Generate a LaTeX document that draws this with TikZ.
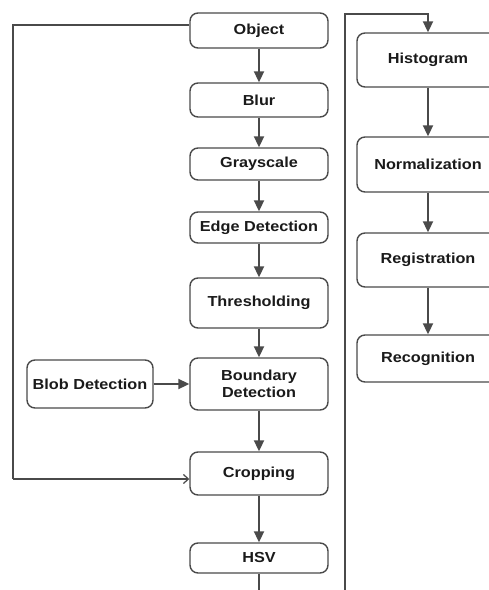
\documentclass[tikz,border=0pt]{standalone}
\usepackage{fontspec}
\setmainfont{Liberation Sans}[FakeStretch=1.12]
\usetikzlibrary{arrows.meta}
\definecolor{edgec}{HTML}{4A4A4A}
\definecolor{txtc}{HTML}{1A1A1A}
\begin{document}
\begin{tikzpicture}[x=1pt,y=-1pt,
  box/.style={draw=edgec,line width=1.4pt,rounded corners=8pt,fill=white,
    text=txtc,inner sep=0pt,align=center,
    font=\fontsize{14.5}{17}\selectfont\bfseries},
  flow/.style={draw=edgec,line width=2pt,-{Triangle[length=11pt,width=10pt]}},
  plain/.style={draw=edgec,line width=2pt},
  thinar/.style={draw=edgec,line width=2pt,-{Straight Barb[length=5pt,width=9pt,line width=1.2pt]}}]
\clip (0,0) rectangle (489,590);
\fill[white] (0,0) rectangle (489,590);
% left column
\node[box,minimum width=138pt,minimum height=35pt] (obj) at (259,30.5) {Object};
\node[box,minimum width=138pt,minimum height=34pt] (blur) at (259,100) {Blur};
\node[box,minimum width=138pt,minimum height=32pt] (gray) at (259,164) {Grayscale};
\node[box,minimum width=138pt,minimum height=31pt] (edge) at (259,227.5) {Edge Detection};
\node[box,minimum width=138pt,minimum height=50pt] (thr) at (259,303) {Thresholding};
\node[box,minimum width=138pt,minimum height=52pt] (bnd) at (259,384) {Boundary\\Detection};
\node[box,minimum width=126pt,minimum height=48pt] (blob) at (90,384) {Blob Detection};
\node[box,minimum width=138pt,minimum height=43pt] (crop) at (259,473.5) {Cropping};
\node[box,minimum width=138pt,minimum height=30pt] (hsv) at (259,558) {HSV};
% right column
\node[box,minimum width=142pt,minimum height=54pt] (hist) at (428,60) {Histogram};
\node[box,minimum width=142pt,minimum height=55pt] (norm) at (428,164.5) {Normalization};
\node[box,minimum width=142pt,minimum height=54pt] (reg) at (428,260) {Registration};
\node[box,minimum width=142pt,minimum height=47pt] (rec) at (428,358.5) {Recognition};
% connectors
\draw[flow] (obj) -- (blur);
\draw[flow] (blur) -- (gray);
\draw[flow] (gray) -- (edge);
\draw[flow] (edge) -- (thr);
\draw[flow] (thr) -- (bnd);
\draw[flow] (blob) -- (bnd);
\draw[flow] (bnd) -- (crop);
\draw[flow] (crop) -- (hsv);
\coordinate (B) at (259,595);
\draw[plain] (hsv) -- (B);
\coordinate (L1) at (13,25);
\coordinate (L2) at (13,479);
\draw[plain] (obj.west |- L1) -- (L1) -- (L2);
\draw[thinar] (L2) -- (crop.west |- L2);
\coordinate (R1) at (345,595);
\coordinate (R2) at (345,14);
\draw[flow] (R1) -- (R2) -- (R2 -| hist.north) -- (hist.north);
\draw[flow] (hist) -- (norm);
\draw[flow] (norm) -- (reg);
\draw[flow] (reg) -- (rec);
\end{tikzpicture}
\end{document}
